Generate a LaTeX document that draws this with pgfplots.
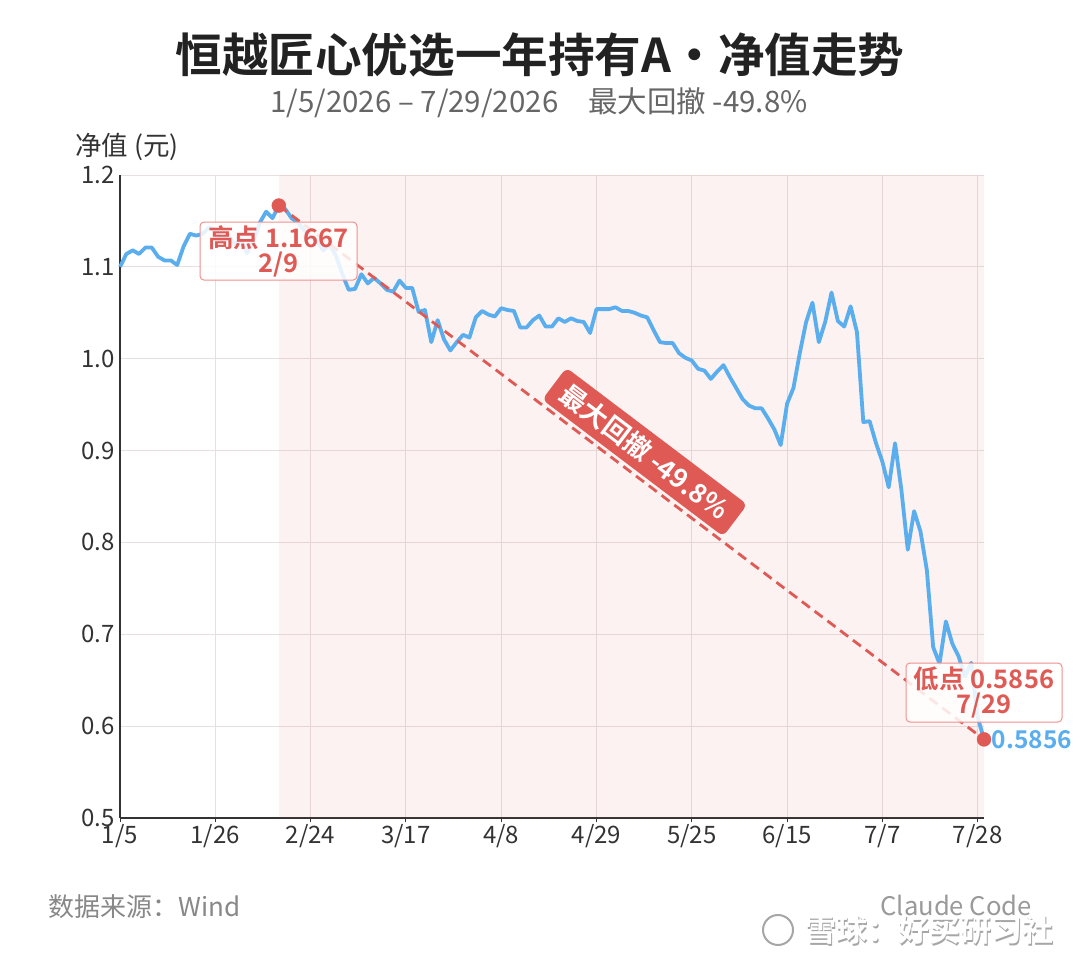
\documentclass[border=0pt]{standalone}
\usepackage{fontspec}
\setmainfont{Noto Sans CJK SC}[BoldFont={Noto Sans CJK SC Bold}]
\usepackage{pgfplots}
\usepackage{pgfplotstable}
\pgfplotsset{compat=1.18}
\definecolor{lineblue}{HTML}{5AAEEE}
\definecolor{dred}{HTML}{E05A55}
\definecolor{boxred}{HTML}{F09090}
\definecolor{gridc}{HTML}{E6E0E0}
\definecolor{axc}{HTML}{333333}
\definecolor{labc}{HTML}{333333}
\definecolor{titc}{HTML}{222222}
\definecolor{subc}{HTML}{666666}
\definecolor{footc}{HTML}{888888}

\pgfplotstableread{
i v
0 1.100
1 1.114
2 1.118
3 1.114
4 1.121
5 1.121
6 1.111
7 1.107
8 1.107
9 1.102
10 1.122
11 1.136
12 1.134
13 1.136
14 1.143
15 1.140
16 1.130
17 1.135
18 1.125
19 1.130
20 1.115
21 1.128
22 1.148
23 1.160
24 1.153
25 1.1667
26 1.163
27 1.153
28 1.148
29 1.140
30 1.132
31 1.128
32 1.118
33 1.124
34 1.112
35 1.092
36 1.075
37 1.076
38 1.092
39 1.082
40 1.088
41 1.082
42 1.075
43 1.073
44 1.085
45 1.077
46 1.077
47 1.051
48 1.053
49 1.018
50 1.042
51 1.021
52 1.009
53 1.018
54 1.026
55 1.023
56 1.045
57 1.052
58 1.048
59 1.046
60 1.055
61 1.053
62 1.052
63 1.034
64 1.034
65 1.042
66 1.047
67 1.035
68 1.035
69 1.044
70 1.040
71 1.044
72 1.041
73 1.040
74 1.028
75 1.054
76 1.054
77 1.054
78 1.056
79 1.052
80 1.052
81 1.050
82 1.047
83 1.045
84 1.031
85 1.018
86 1.017
87 1.017
88 1.006
89 1.001
90 0.998
91 0.989
92 0.987
93 0.978
94 0.986
95 0.993
96 0.980
97 0.968
98 0.956
99 0.949
100 0.946
101 0.946
102 0.935
103 0.923
104 0.906
105 0.951
106 0.968
107 1.006
108 1.040
109 1.061
110 1.018
111 1.040
112 1.072
113 1.041
114 1.035
115 1.057
116 1.029
117 0.931
118 0.932
119 0.908
120 0.888
121 0.860
122 0.908
123 0.857
124 0.792
125 0.834
126 0.812
127 0.770
128 0.686
129 0.668
130 0.714
131 0.690
132 0.676
133 0.654
134 0.669
135 0.610
136 0.5856
}\navdata

\begin{document}
\begin{tikzpicture}[x=1pt,y=1pt]
\fill[white] (0,0) rectangle (1080,960);

% titles
\node[text=titc, font=\fontsize{46.6}{50}\selectfont\bfseries] at (540,905) {恒越匠心优选一年持有A・净值走势};
\node[text=subc, font=\fontsize{29.5}{32}\selectfont] at (539,857) {1/5/2026 – 7/29/2026\hspace{30pt}最大回撤 -49.8\%};
\node[text=labc, font=\fontsize{26.5}{28}\selectfont, anchor=west, inner sep=0pt] at (75,813) {净值 (元)};

\begin{axis}[
  at={(120pt,142pt)}, anchor=south west,
  scale only axis, width=864pt, height=643pt,
  xmin=0, xmax=136, ymin=0.5, ymax=1.2,
  axis lines=left, axis line style={-, draw=axc, line width=2pt},
  xtick={0,15,30,45,60,75,90,105,120,135},
  xticklabels={1/5,1/26,2/24,3/17,4/8,4/29,5/25,6/15,7/7,7/28},
  ytick={0.5,0.6,0.7,0.8,0.9,1.0,1.1,1.2},
  yticklabels={0.5,0.6,0.7,0.8,0.9,1.0,1.1,1.2},
  grid=major, major grid style={gridc, line width=0.9pt},
  tick align=outside, major tick length=4pt, tick style={axc, line width=1pt},
  every major y tick/.append style={draw=none},
  tick label style={font=\fontsize{24}{24}\selectfont, text=labc},
  y tick label style={xshift=2pt},
  x tick label style={yshift=1pt},
  clip=false,
]
\addplot[draw=none, fill=dred, fill opacity=0.08] coordinates {(25,0.5) (25,1.2) (136,1.2) (136,0.5)} -- cycle;
\addplot[lineblue, line width=3.8pt, line join=round] table[x=i,y=v]{\navdata};
\addplot[dred, line width=2.8pt, dash pattern=on 10pt off 6pt] coordinates {(25,1.1667) (136,0.5856)};
\addplot[only marks, mark=*, mark size=7pt, dred, mark options={draw=dred, fill=dred}] coordinates {(25,1.1667) (136,0.5856)};

\node[draw=boxred, line width=1pt, fill=white, fill opacity=0.85, text opacity=1, rounded corners=4pt,
      minimum width=157pt, minimum height=58pt, align=center, text=dred,
      font=\fontsize{25.5}{25}\selectfont\bfseries, inner sep=2pt] at (axis cs:24.95,1.1172) {高点 1.1667\\2/9};
\node[draw=boxred, line width=1pt, fill=white, fill opacity=0.85, text opacity=1, rounded corners=4pt,
      minimum width=156pt, minimum height=59pt, align=center, text=dred,
      font=\fontsize{25.5}{25}\selectfont\bfseries, inner sep=2pt] at (axis cs:136,0.6366) {低点 0.5856\\7/29};
\node[fill=dred, rounded corners=6pt, text=white, rotate=-37.1, minimum height=40pt, inner xsep=12pt,
      font=\fontsize{26.5}{26.5}\selectfont\bfseries] at (axis cs:82.6,0.8984) {最大回撤 -49.8\%};
\node[anchor=west, text=lineblue, font=\fontsize{24.5}{24}\selectfont\bfseries, inner sep=0pt] at (axis cs:137.2,0.5856) {0.5856};
\end{axis}

% footer
\node[anchor=west, text=footc, font=\fontsize{26}{28}\selectfont, inner sep=0pt] at (48,53) {数据来源：Wind};
\node[anchor=east, text=footc!85, font=\fontsize{25.6}{28}\selectfont, inner sep=0pt] at (1032,55) {Claude Code};
% watermark
\draw[gray!70, line width=2pt, fill=white] (778,30) circle (15);
\node[text=gray!70, font=\fontsize{31}{34}\selectfont\bfseries, anchor=west, inner sep=0pt] at (806.5,28.5) {雪球：好买研习社};
\node[text=white, font=\fontsize{31}{34}\selectfont\bfseries, anchor=west, inner sep=0pt] at (805,30) {雪球：好买研习社};
\end{tikzpicture}
\end{document}
